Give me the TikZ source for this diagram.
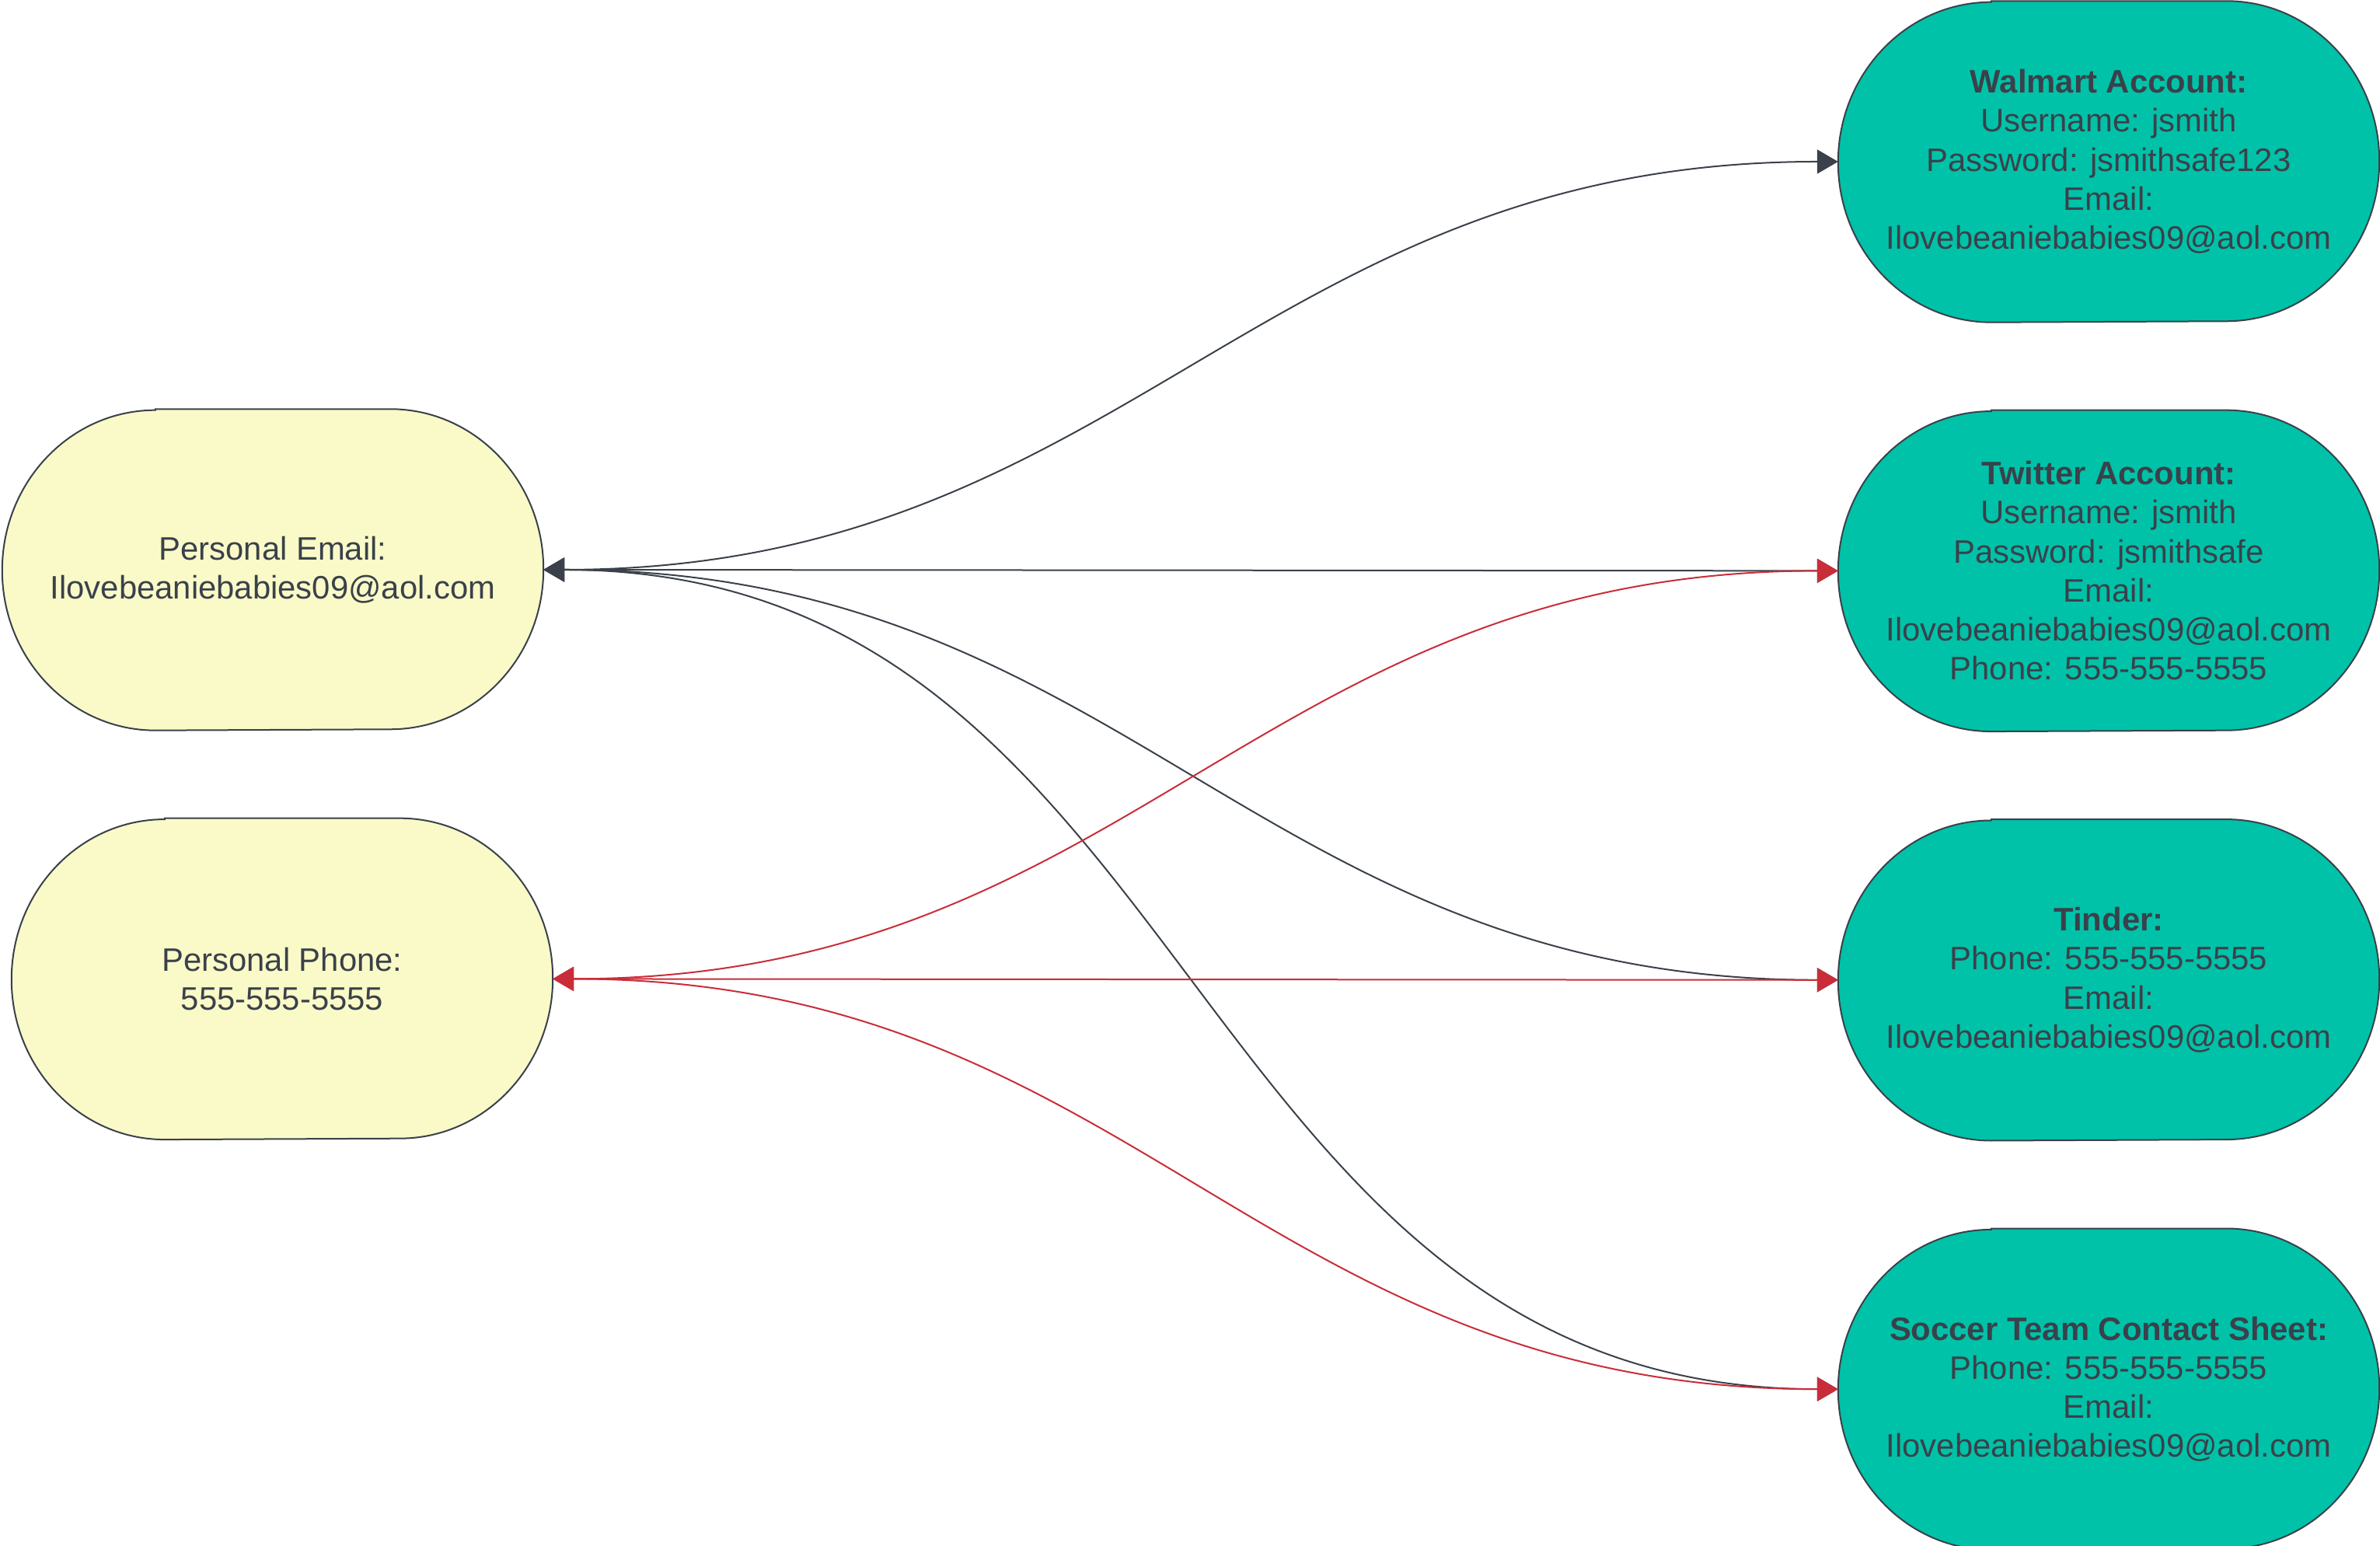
\documentclass[tikz,border=0pt]{standalone}
\usepackage{fontspec}
\setmainfont{Liberation Sans}
\usetikzlibrary{positioning,arrows.meta,backgrounds}
\definecolor{ink}{HTML}{3A414A}
\definecolor{lucidteal}{HTML}{00C2A8}
\definecolor{paleyellow}{HTML}{FAFAC8}
\definecolor{lucidred}{HTML}{C92D39}
\begin{document}
\begin{tikzpicture}[node distance={11.3mm}, main/.style = {minimum width=69.5mm, minimum height=41.2mm, inner sep=0pt, align=center, text=ink, font=\fontsize{11.9}{14.3}\selectfont}, link/.style = {<->, >={Triangle[length=2.7mm, width=3.1mm]}, line width=0.2mm}]
    \useasboundingbox (0,0) rectangle (30.62,19.89);
    \node[main] (walmart) at (27.13,17.81) {\textbf{Walmart Account:}\\Username: jsmith\\Password: jsmithsafe123\\Email:\\Ilovebeaniebabies09@aol.com};
    \node[main] (twitter) [below=of walmart] {\textbf{Twitter Account:}\\Username: jsmith\\Password: jsmithsafe\\Email:\\Ilovebeaniebabies09@aol.com\\Phone: 555-555-5555};
    \node[main] (tinder) [below=of twitter] {\textbf{Tinder:}\\Phone: 555-555-5555\\Email:\\Ilovebeaniebabies09@aol.com};
    \node[main] (soccer) [below=of tinder] {\textbf{Soccer Team Contact Sheet:}\\Phone: 555-555-5555\\Email:\\Ilovebeaniebabies09@aol.com};
    \node[main] (email) at (3.51,12.56) {Personal Email:\\Ilovebeaniebabies09@aol.com};
    \node[main] (phone) [below=of email, xshift=1.2mm] {Personal Phone:\\555-555-5555};
    \begin{scope}[on background layer]
    \foreach \n/\c in {email/paleyellow, phone/paleyellow, walmart/lucidteal, twitter/lucidteal, tinder/lucidteal, soccer/lucidteal}
        \filldraw[fill=\c, draw=ink, line width=0.2mm] ([xshift=19.7mm]\n.north west) -- ([xshift=-19.7mm]\n.north east) arc[start angle=90, end angle=-90, x radius=19.7mm, y radius=20.6mm] -- ([xshift=19.7mm]\n.south west) arc[start angle=270, end angle=90, x radius=19.7mm, y radius=20.6mm] -- cycle;
    \end{scope}
    \draw[link, ink] (email.east) to[out=0, in=180, looseness=1.1] (walmart.west);
    \draw[link, ink] (email.east) -- (twitter.west);
    \draw[link, ink] (email.east) to[out=0, in=180, looseness=1.1] (tinder.west);
    \draw[link, ink] (email.east) to[out=0, in=180, looseness=1.1] (soccer.west);
    \draw[link, lucidred] (phone.east) to[out=0, in=180, looseness=1.1] (twitter.west);
    \draw[link, lucidred] (phone.east) -- (tinder.west);
    \draw[link, lucidred] (phone.east) to[out=0, in=180, looseness=1.1] (soccer.west);
\end{tikzpicture}
\end{document}
